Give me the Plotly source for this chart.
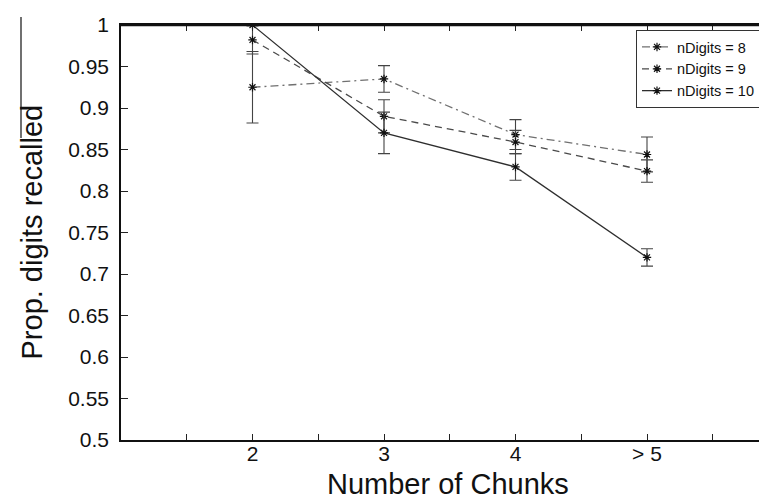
import plotly.graph_objects as go

# ---- data ----
chunk_pos = [2, 3, 4, 5]
tick_vals = [1.5, 2, 2.5, 3, 3.5, 4, 4.5, 5, 5.5]
tick_text = ["", "2", "", "3", "", "4", "", "> 5", ""]

y_n8 = [0.925, 0.935, 0.868, 0.844]
err_n8 = [0.043, 0.016, 0.018, 0.021]
y_n9 = [0.982, 0.890, 0.859, 0.824]
err_n9 = [0.017, 0.020, 0.014, 0.0135]
y_n10 = [1.0, 0.870, 0.829, 0.720]
err_n10 = [0.0, 0.025, 0.016, 0.0105]

names = ["nDigits = 8", "nDigits = 9", "nDigits = 10"]
series = [y_n8, y_n9, y_n10]
errors = [err_n8, err_n9, err_n10]
dashes = ["8px,4px,2px,4px", "7px,5px", "solid"]
colors = ["#707070", "#4a4a4a", "#2e2e2e"]

W, H = 767, 501
ML, MR, MT, MB = 113, 0, 17, 69
PW = W - ML - MR
PH = H - MT - MB

fig = go.Figure()
for nm, ys, es, ds, c in zip(names, series, errors, dashes, colors):
    fig.add_trace(go.Scatter(
        x=chunk_pos, y=ys, name=nm, mode="lines+markers",
        line=dict(color=c, width=1.3, dash=ds),
        marker=dict(symbol="asterisk-open", size=7, color="#111",
                    line=dict(color="#111", width=1.2)),
        error_y=dict(type="data", array=es, symmetric=True,
                     color="#444", thickness=1.1, width=6),
    ))

font_family = "Liberation Sans, Arial, Helvetica, sans-serif"

fig.update_layout(
    width=W, height=H,
    margin=dict(l=ML, r=MR, t=MT, b=MB, autoexpand=False),
    paper_bgcolor="white", plot_bgcolor="white",
    font=dict(family=font_family, color="#111", size=20),
    showlegend=True,
    legend=dict(
        x=(628 - ML) / PW, y=(MT + PH - 22) / PH, xanchor="left", yanchor="top",
        bgcolor="white", bordercolor="#333", borderwidth=1,
        font=dict(size=14.5, family=font_family, color="#111"),
        tracegroupgap=0,
    ),
    xaxis=dict(
        range=[1, 1 + PW / 131.5],
        tickmode="array", tickvals=tick_vals, ticktext=tick_text,
        ticks="inside", ticklen=6, tickcolor="#222", tickwidth=1,
        showline=True, linecolor="#111", linewidth=1.5, mirror="ticks",
        showgrid=False, zeroline=False,
        tickfont=dict(size=21), ticklabelstandoff=-6,
    ),
    yaxis=dict(
        range=[0.5, 1.0], tick0=0.5, dtick=0.05,
        ticks="inside", ticklen=7, tickcolor="#222", tickwidth=1,
        showline=True, linecolor="#111", linewidth=1.5,
        showgrid=False, zeroline=False,
        tickfont=dict(size=21), ticklabelstandoff=6,
    ),
    annotations=[
        dict(text="Number of Chunks", xref="paper", yref="paper",
             x=0.5, y=(MT + PH - 476) / PH, yanchor="middle", xanchor="center",
             showarrow=False, font=dict(size=29, family=font_family, color="#111")),
        dict(text="Prop. digits recalled", xref="paper", yref="paper",
             x=(23 - ML) / PW, y=0.5, xanchor="center", yanchor="middle",
             textangle=-90, showarrow=False,
             font=dict(size=29, family=font_family, color="#111")),
    ],
    shapes=[
        dict(type="line", xref="paper", yref="paper",
             x0=(13 - ML) / PW, x1=(13 - ML) / PW,
             y0=(MT + PH - 9) / PH, y1=(MT + PH - 130) / PH,
             line=dict(color="#111", width=1.2)),
        dict(type="line", xref="paper", yref="paper",
             x0=0, x1=1, y0=1, y1=1,
             line=dict(color="#111", width=2.5)),
    ],
)

fig.write_html("out.html")
